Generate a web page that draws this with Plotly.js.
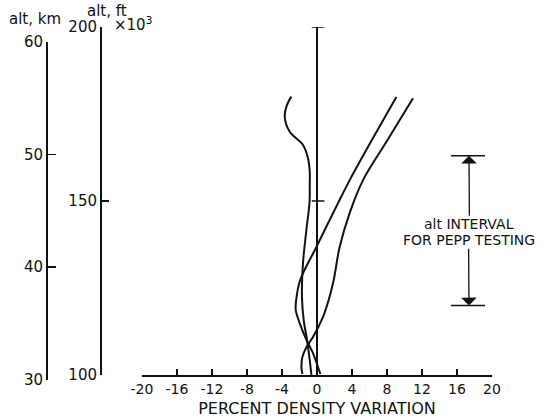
<!DOCTYPE html>
<html>
<head>
<meta charset="utf-8">
<script src="https://cdn.plot.ly/plotly-3.0.1.min.js"></script>
<style>html,body{margin:0;padding:0;background:#fff;}#chart{width:551px;height:419px;}</style>
</head>
<body>
<div id="chart"></div>
<script>
// ---- data ----
const xTickVals = [-20, -16, -12, -8, -4, 0, 4, 8, 12, 16, 20];
const xTickText = ['-20', '-16', '-12', '-8', '-4', '0', '4', '8', '12', '16', '20'];
const ftTickVals = [100, 150, 200];
const kmTickVals = [30, 40, 50, 60];
const zeroLineTicks = [150, 200];          // altitude (kft) of tick marks on the 0 % line
const peppInterval = [120, 163];           // altitude interval (kft) for PEPP testing

// curve A (wiggly curve near zero)
const curveA_alt = [180.0, 177.5, 174.2, 169.9, 166.1, 162.3, 158.4, 154.6, 149.8, 141.7, 132.2, 122.5, 115.8, 110.1, 104.3, 100.0];
const curveA_pct = [-2.93, -3.45, -3.69, -3.12, -1.6, -1.03, -0.83, -0.83, -0.85, -1.21, -1.6, -1.72, -1.52, -1.14, -0.83, -0.64];
// curve B (middle diagonal)
const curveB_alt = [179.9, 167.5, 156.0, 149.4, 136.8, 127.3, 121.6, 118.7, 114.9, 110.1, 106.3, 102.3, 100.3];
const curveB_pct = [9.07, 6.27, 3.74, 2.4, -0.07, -1.92, -2.38, -2.43, -1.98, -1.21, -0.46, 0.11, 0.39];
// curve C (rightmost)
const curveC_alt = [179.5, 167.5, 156.0, 146.6, 136.8, 127.3, 121.6, 116.7, 110.9, 108.0, 105.2, 102.3, 100.3];
const curveC_pct = [10.97, 8.06, 5.26, 3.74, 2.59, 1.91, 1.34, 0.69, -0.46, -1.21, -1.67, -1.78, -1.67];

// ---- layout helpers ----
const W = 551, H = 419, MB = 39;
const PH = H - MB;
const px = v => v / W;
const pyDom = v => (PH - v) / PH;   // pixel y -> domain fraction in plot area
const pyPaper = v => 1 - v / H;

const FONT = 'DejaVu Sans, sans-serif';
const INK = '#111';

const lineStyle = {color: INK, width: 2, shape: 'spline', smoothing: 1};
const traces = [
  {x: curveA_pct, y: curveA_alt, mode: 'lines', line: lineStyle, hoverinfo: 'skip', showlegend: false},
  {x: curveB_pct, y: curveB_alt, mode: 'lines', line: lineStyle, hoverinfo: 'skip', showlegend: false},
  {x: curveC_pct, y: curveC_alt, mode: 'lines', line: lineStyle, hoverinfo: 'skip', showlegend: false},
  // invisible trace so the km axis gets drawn
  {x: [null], y: [null], xaxis: 'x2', yaxis: 'y2', mode: 'lines', hoverinfo: 'skip', showlegend: false}
];

const shapes = [];
zeroLineTicks.forEach(a => {
  shapes.push({type: 'line', xref: 'x', yref: 'y', x0: -0.6, x1: 0.85, y0: a, y1: a, line: {color: INK, width: 1.5}});
});
peppInterval.forEach(a => {
  shapes.push({type: 'line', xref: 'x', yref: 'y', x0: 15.3, x1: 19.2, y0: a, y1: a, line: {color: INK, width: 1.5}});
});

const arrowX = 17.37;
const labelFont = {family: FONT, size: 14, color: INK};
const annotations = [
  {xref: 'paper', yref: 'paper', x: px(35), y: pyPaper(21), text: 'alt, km', showarrow: false, xanchor: 'center', yanchor: 'middle', font: {family: FONT, size: 15, color: INK}},
  {xref: 'paper', yref: 'paper', x: px(107), y: pyPaper(12), text: 'alt, ft', showarrow: false, xanchor: 'center', yanchor: 'middle', font: {family: FONT, size: 15, color: INK}},
  {xref: 'paper', yref: 'paper', x: px(112), y: pyPaper(26), text: '×10<sup>3</sup>', showarrow: false, xanchor: 'left', yanchor: 'middle', font: {family: FONT, size: 15, color: INK}},
  // label lines with the interval arrows attached
  {xref: 'x', yref: 'y', axref: 'x', ayref: 'y', x: arrowX, y: peppInterval[1], ax: arrowX + 0.05, ay: 143.3,
   text: 'alt INTERVAL', showarrow: true, arrowhead: 1, arrowsize: 2, arrowwidth: 1.3, arrowcolor: INK, borderpad: 0, font: labelFont},
  {xref: 'x', yref: 'y', axref: 'x', ayref: 'y', x: arrowX, y: peppInterval[0], ax: arrowX - 0.05, ay: 138.7,
   text: 'FOR PEPP TESTING', showarrow: true, arrowhead: 1, arrowsize: 2, arrowwidth: 1.3, arrowcolor: INK, borderpad: 0, font: labelFont}
];

const layout = {
  width: W, height: H,
  margin: {l: 0, r: 0, t: 0, b: MB, pad: 0},
  paper_bgcolor: '#fff', plot_bgcolor: 'rgba(0,0,0,0)',
  font: {family: FONT, color: INK},
  showlegend: false,
  xaxis: {
    domain: [px(142), px(492)], range: [-20, 20], anchor: 'y',
    tickvals: xTickVals, ticktext: xTickText,
    ticks: 'inside', ticklen: 6, tickwidth: 1.5, tickcolor: INK,
    showline: true, linecolor: INK, linewidth: 2,
    showgrid: false, zeroline: true, zerolinecolor: INK, zerolinewidth: 1.5,
    tickfont: {family: FONT, size: 14, color: INK},
    title: {text: 'PERCENT DENSITY VARIATION', font: {family: FONT, size: 16, color: INK}, standoff: 7},
    fixedrange: true
  },
  yaxis: {
    domain: [pyDom(375), pyDom(27)], range: [100, 200], anchor: 'free', position: px(101), side: 'left',
    tickvals: ftTickVals,
    ticks: 'inside', ticklen: 7, tickwidth: 1.5, tickcolor: INK,
    showline: true, linecolor: INK, linewidth: 2,
    showgrid: false, zeroline: false,
    tickfont: {family: FONT, size: 15, color: INK},
    fixedrange: true
  },
  xaxis2: {domain: [0, 1], range: [0, 1], anchor: 'y2', visible: false, fixedrange: true},
  yaxis2: {
    domain: [pyDom(380), pyDom(41.7)], range: [30, 60], anchor: 'free', position: px(47), side: 'left',
    tickvals: kmTickVals,
    ticks: 'inside', ticklen: 8, tickwidth: 1.5, tickcolor: INK,
    showline: true, linecolor: INK, linewidth: 2,
    showgrid: false, zeroline: false,
    tickfont: {family: FONT, size: 15, color: INK},
    fixedrange: true
  },
  shapes: shapes,
  annotations: annotations
};

Plotly.newPlot('chart', traces, layout, {staticPlot: true, displayModeBar: false});
</script>
</body>
</html>
